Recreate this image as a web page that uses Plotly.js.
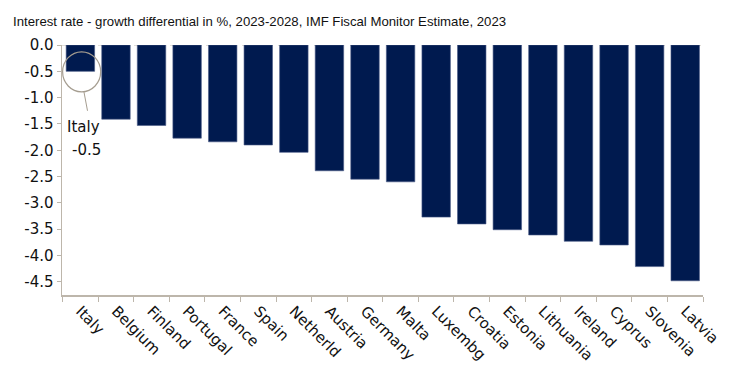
<!DOCTYPE html>
<html>
<head>
<meta charset="utf-8">
<script src="https://cdn.plot.ly/plotly-3.0.1.min.js"></script>
<style>html,body{margin:0;padding:0;background:#fff;}#chart{width:739px;height:372px;}</style>
</head>
<body>
<div id="chart"></div>
<script>
const countries = ["Italy","Belgium","Finland","Portugal","France","Spain","Netherld","Austria","Germany","Malta","Luxembg","Croatia","Estonia","Lithuania","Ireland","Cyprus","Slovenia","Latvia"];
const differential = [-0.5,-1.41,-1.53,-1.77,-1.84,-1.9,-2.04,-2.39,-2.55,-2.6,-3.27,-3.4,-3.51,-3.61,-3.73,-3.8,-4.21,-4.48];
const yTicks = [0,-0.5,-1,-1.5,-2,-2.5,-3,-3.5,-4,-4.5];
const yTickText = ["0.0","-0.5","-1.0","-1.5","-2.0","-2.5","-3.0","-3.5","-4.0","-4.5"];
const subtitle = "Interest rate - growth differential in %, 2023-2028, IMF Fiscal Monitor Estimate, 2023";
const calloutName = "Italy";
const calloutValue = "-0.5";

const axisColor = "#bdb6ab";
const tickFont = {family: "DejaVu Sans, sans-serif", size: 15, color: "#111"};

const trace = {
  type: "bar",
  x: countries,
  y: differential,
  marker: {color: "#001a4f", line: {color: "#4a5a86", width: 0.6}},
  hoverinfo: "x+y"
};

const layout = {
  width: 739, height: 372,
  margin: {l: 62, r: 36, t: 45, b: 77},
  paper_bgcolor: "#fff", plot_bgcolor: "#fff",
  bargap: 0.2,
  showlegend: false,
  title: {
    text: subtitle,
    xref: "container", yref: "container",
    x: 13/739, xanchor: "left",
    y: 1 - 21/372, yanchor: "middle",
    font: {family: "Liberation Sans, Arial, sans-serif", size: 13.2, color: "#111"}
  },
  xaxis: {
    type: "category",
    tickangle: 45,
    tickson: "boundaries",
    ticks: "outside", ticklen: 5, tickcolor: axisColor,
    showline: true, linecolor: axisColor, linewidth: 1.5,
    showgrid: false, zeroline: false,
    tickfont: tickFont,
    fixedrange: true
  },
  yaxis: {
    range: [-4.75, 0],
    tickvals: yTicks, ticktext: yTickText,
    ticks: "outside", ticklen: 4, tickcolor: axisColor,
    showline: true, linecolor: axisColor, linewidth: 1.5,
    showgrid: false, zeroline: false,
    tickfont: tickFont,
    fixedrange: true
  },
  shapes: [
    {type: "line", xref: "paper", yref: "y", x0: 0, x1: 1, y0: 0, y1: 0,
     line: {color: "#c4beb4", width: 1, dash: "dash"}, layer: "below"},
    {type: "circle", xref: "x", yref: "y", x0: -0.5, x1: 0.57, y0: -0.13, y1: -0.89,
     line: {color: "#a59d90", width: 1.2}},
    {type: "line", xref: "x", yref: "y", x0: 0.1, x1: 0.2, y0: -0.89, y1: -1.25,
     line: {color: "#a59d90", width: 1}}
  ],
  annotations: [
    {xref: "x", yref: "y", x: 0.1, y: -1.56, text: calloutName, showarrow: false,
     font: tickFont, xanchor: "center", yanchor: "middle"},
    {xref: "x", yref: "y", x: 0.17, y: -1.99, text: calloutValue, showarrow: false,
     font: tickFont, xanchor: "center", yanchor: "middle"}
  ]
};

Plotly.newPlot("chart", [trace], layout, {displayModeBar: false, staticPlot: true});
</script>
</body>
</html>
